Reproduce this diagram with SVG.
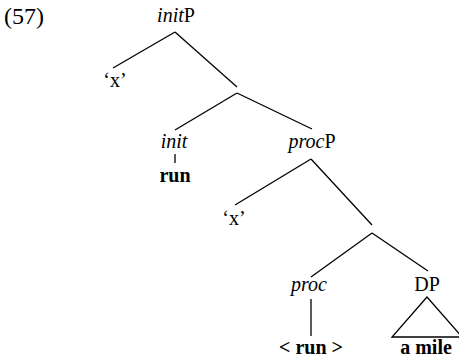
<svg xmlns="http://www.w3.org/2000/svg" width="459" height="360" viewBox="0 0 459 360">
<style>
text{font-family:"Liberation Serif","Times New Roman",serif;font-size:20px;fill:#000;text-anchor:middle}
.i{font-style:italic}
.b{font-weight:bold}
line,polygon{stroke:#000;stroke-width:1.3;fill:none}
</style>
<rect width="459" height="360" fill="#fff"/>
<text x="4" y="24" style="text-anchor:start;font-size:24px">(57)</text>
<g id="initP"><text x="176" y="22"><tspan class="i">init</tspan>P</text></g>
<g id="x1"><text x="115" y="87">‘x’</text></g>
<g id="init"><text x="174" y="148" class="i">init</text></g>
<g id="run1"><text x="175" y="182" class="b">run</text></g>
<g id="procP"><text x="312" y="148"><tspan class="i">proc</tspan>P</text></g>
<g id="x2"><text x="234" y="225">‘x’</text></g>
<g id="proc"><text x="309" y="291" class="i">proc</text></g>
<g id="run2"><text x="311" y="354" class="b">&lt; run &gt;</text></g>
<g id="DP"><text x="427" y="291">DP</text></g>
<g id="amile"><text x="426" y="354" class="b">a mile</text></g>
<g id="connectors">
<line x1="175" y1="32" x2="113" y2="68"/>
<line x1="175" y1="32" x2="237" y2="87"/>
<line x1="237" y1="93" x2="175" y2="130"/>
<line x1="237" y1="93" x2="312" y2="129"/>
<line x1="175" y1="154" x2="175" y2="163"/>
<line x1="311" y1="159" x2="235" y2="205"/>
<line x1="311" y1="159" x2="372" y2="225"/>
<line x1="372" y1="233" x2="311" y2="277"/>
<line x1="372" y1="233" x2="428" y2="271"/>
<line x1="311" y1="299" x2="311" y2="336"/>
<polygon points="427,297 392,337 462,337"/>
</g>
</svg>
